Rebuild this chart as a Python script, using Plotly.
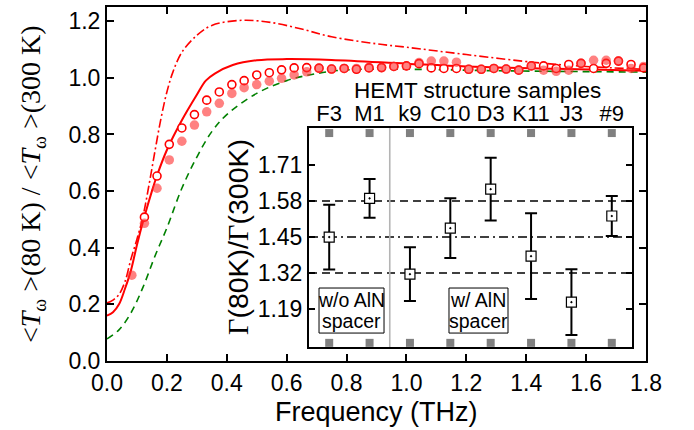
import plotly.graph_objects as go

# ---------------- data ----------------
freq_filled = [0.083, 0.125, 0.167, 0.208, 0.25, 0.292, 0.333, 0.375, 0.417, 0.458, 0.5,
               0.542, 0.583, 0.625, 0.667, 0.708, 0.75, 0.792, 0.833, 0.875, 0.917, 0.958,
               1.0, 1.042, 1.083, 1.125, 1.167, 1.208, 1.25, 1.292, 1.333, 1.375, 1.417,
               1.458, 1.5, 1.542, 1.583, 1.625, 1.667, 1.708, 1.75, 1.792]
ratio_filled = [0.303, 0.486, 0.61, 0.71, 0.776, 0.833, 0.88, 0.91, 0.945, 0.965, 0.976,
                0.988, 0.998, 1.01, 1.021, 1.033, 1.031, 1.033, 1.033, 1.037, 1.036, 1.04,
                1.042, 1.054, 1.059, 1.059, 1.055, 1.03, 1.03, 1.033, 1.031, 1.027, 1.042,
                1.027, 1.023, 1.027, 1.051, 1.062, 1.062, 1.059, 1.033, 1.04]

freq_open = [0.125, 0.167, 0.208, 0.25, 0.292, 0.333, 0.375, 0.417, 0.458, 0.5,
             0.542, 0.583, 0.625, 0.667, 0.708, 0.75, 0.792, 0.833, 0.875, 0.917, 0.958,
             1.0, 1.042, 1.083, 1.125, 1.167, 1.208, 1.25, 1.292, 1.333, 1.375, 1.417,
             1.458, 1.5, 1.542, 1.583, 1.625, 1.667, 1.708, 1.75, 1.792]
ratio_open = [0.508, 0.653, 0.765, 0.823, 0.87, 0.921, 0.95, 0.976, 0.99, 1.01,
              1.018, 1.028, 1.035, 1.036, 1.034, 1.031, 1.033, 1.03, 1.035, 1.036, 1.04,
              1.042, 1.05, 1.035, 1.033, 1.033, 1.03, 1.03, 1.033, 1.031, 1.027, 1.042,
              1.042, 1.033, 1.047, 1.051, 1.033, 1.051, 1.059, 1.047, 1.035]

freq_solid = [0.0, 0.02, 0.04, 0.06, 0.08, 0.1, 0.125, 0.15, 0.167, 0.2, 0.25, 0.3, 0.33,
              0.36, 0.42, 0.5, 0.6, 0.75, 1.0, 1.2, 1.5, 1.8]
ratio_solid = [0.16, 0.172, 0.2, 0.255, 0.32, 0.41, 0.51, 0.6, 0.655, 0.745, 0.85, 0.94,
               0.99, 1.015, 1.045, 1.062, 1.066, 1.063, 1.05, 1.04, 1.032, 1.025]

freq_dashdot = [0.0, 0.02, 0.04, 0.06, 0.08, 0.1, 0.12, 0.14, 0.16, 0.18, 0.2, 0.22, 0.25,
                0.3, 0.35, 0.45, 0.55, 0.65, 0.75, 0.9, 1.0, 1.2, 1.45, 1.6, 1.8]
ratio_dashdot = [0.205, 0.215, 0.235, 0.28, 0.36, 0.43, 0.51, 0.62, 0.74, 0.855, 0.95, 1.02,
                 1.09, 1.15, 1.185, 1.203, 1.195, 1.172, 1.145, 1.12, 1.108, 1.082, 1.052,
                 1.04, 1.03]

freq_dash = [0.0, 0.04, 0.08, 0.12, 0.16, 0.2, 0.25, 0.3, 0.35, 0.4, 0.5, 0.6, 0.7, 0.8,
             1.0, 1.3, 1.8]
ratio_dash = [0.078, 0.11, 0.17, 0.26, 0.37, 0.47, 0.61, 0.72, 0.81, 0.87, 0.945, 0.99,
              1.015, 1.028, 1.03, 1.025, 1.02]

samples = ["F3", "M1", "k9", "C10", "D3", "K11", "J3", "#9"]
sample_pos = [1, 2, 3, 4, 5, 6, 7, 8]
gamma_ratio = [1.45, 1.59, 1.316, 1.482, 1.623, 1.381, 1.215, 1.526]
gamma_err = [0.117, 0.07, 0.097, 0.108, 0.113, 0.155, 0.119, 0.072]
mean_ratio = 1.45
std_ratio = 0.13
inset_ticks = [1.19, 1.32, 1.45, 1.58, 1.71]

# ---------------- figure ----------------
SANS = "Liberation Sans, Arial, sans-serif"
SERIF = "Liberation Serif, Times New Roman, serif"
RED = "#ff0000"

fig = go.Figure()

fig.add_trace(go.Scatter(x=freq_dash, y=ratio_dash, mode="lines", line_shape="spline",
                         line=dict(color="#008000", width=1.6, dash="7px,5px"),
                         showlegend=False))
fig.add_trace(go.Scatter(x=freq_dashdot, y=ratio_dashdot, mode="lines", line_shape="spline",
                         line=dict(color=RED, width=1.6, dash="9px,3px,2px,3px"),
                         showlegend=False))
fig.add_trace(go.Scatter(x=freq_solid, y=ratio_solid, mode="lines", line_shape="spline",
                         line=dict(color=RED, width=2), showlegend=False))
fig.add_trace(go.Scatter(x=freq_open, y=ratio_open, mode="markers",
                         marker=dict(symbol="circle", size=8, color="white",
                                     line=dict(color=RED, width=1.6)),
                         showlegend=False))
fig.add_trace(go.Scatter(x=freq_filled, y=ratio_filled, mode="markers",
                         marker=dict(symbol="circle", size=9.5, color="rgba(255,45,45,0.6)",
                                     line=dict(width=0)),
                         showlegend=False))

# inset
y2_range = [1.053, 1.8435]
fig.add_trace(go.Scatter(x=[0.5, 8.5], y=[mean_ratio + std_ratio] * 2, mode="lines",
                         xaxis="x2", yaxis="y2",
                         line=dict(color="black", width=1.6, dash="8px,5px"), showlegend=False))
fig.add_trace(go.Scatter(x=[0.5, 8.5], y=[mean_ratio - std_ratio] * 2, mode="lines",
                         xaxis="x2", yaxis="y2",
                         line=dict(color="black", width=1.6, dash="8px,5px"), showlegend=False))
fig.add_trace(go.Scatter(x=[0.5, 8.5], y=[mean_ratio] * 2, mode="lines",
                         xaxis="x2", yaxis="y2",
                         line=dict(color="black", width=1.6, dash="9px,4px,2px,4px"),
                         showlegend=False))
fig.add_trace(go.Scatter(x=[2.5, 2.5], y=y2_range, mode="lines", xaxis="x2", yaxis="y2",
                         line=dict(color="#b4b4b4", width=1.6), showlegend=False))
# grey square "ticks"
top_mark = y2_range[1] - 0.018
bot_mark = y2_range[0] + 0.015
fig.add_trace(go.Scatter(x=sample_pos, y=[top_mark] * len(sample_pos), mode="markers",
                         xaxis="x2", yaxis="y2", cliponaxis=False,
                         marker=dict(symbol="square", size=8, color="#808080"), showlegend=False))
fig.add_trace(go.Scatter(x=sample_pos, y=[bot_mark] * len(sample_pos), mode="markers",
                         xaxis="x2", yaxis="y2", cliponaxis=False,
                         marker=dict(symbol="square", size=8, color="#808080"), showlegend=False))
fig.add_trace(go.Scatter(x=sample_pos, y=gamma_ratio, mode="markers", xaxis="x2", yaxis="y2",
                         error_y=dict(type="data", array=gamma_err, color="black",
                                      thickness=2, width=6),
                         marker=dict(symbol="square-dot", size=10, color="white",
                                     line=dict(color="black", width=1.2)),
                         showlegend=False))

# text boxes
fig.add_shape(type="rect", xref="x2", yref="y2", x0=0.748, x1=2.358, y0=1.1034, y1=1.266,
              line=dict(color="black", width=1), fillcolor="white", layer="below")
fig.add_shape(type="rect", xref="x2", yref="y2", x0=3.967, x1=5.429, y0=1.1034, y1=1.266,
              line=dict(color="black", width=1), fillcolor="white", layer="below")
for xc, line1 in [(1.553, "w/o AlN"), (4.698, "w/ AlN")]:
    fig.add_annotation(xref="x2", yref="y2", x=xc, y=1.222, text=line1, showarrow=False,
                       xanchor="center", yanchor="middle",
                       font=dict(family=SANS, size=19.5, color="black"))
    fig.add_annotation(xref="x2", yref="y2", x=xc, y=1.148, text="spacer", showarrow=False,
                       xanchor="center", yanchor="middle",
                       font=dict(family=SANS, size=19.5, color="black"))

fig.add_annotation(xref="paper", yref="paper", x=0.688, y=0.7655, text="HEMT structure samples",
                   xanchor="center", yanchor="middle",
                   showarrow=False, font=dict(family=SANS, size=22.5, color="black"))

# axis titles
fig.add_annotation(xref="paper", yref="paper", x=-0.139, y=0.5, textangle=-90,
                   xanchor="center", yanchor="middle",
                   text="&lt;<i>T</i><sub>ω</sub> &gt;(80 K) / &lt;<i>T</i><sub>ω</sub> &gt;(300 K)",
                   showarrow=False, font=dict(family=SERIF, size=28, color="black"))
fig.add_annotation(xref="paper", yref="paper", x=0.243, y=0.350, textangle=-90,
                   xanchor="center", yanchor="middle",
                   text="<span style='font-family:Liberation Serif'>Γ</span>(80K)/<span style='font-family:Liberation Serif'>Γ</span>(300K)",
                   showarrow=False, font=dict(family=SANS, size=28.5, color="black"))
fig.add_annotation(xref="paper", yref="paper", x=0.5, y=-0.143,
                   xanchor="center", yanchor="middle",
                   text="Frequency (THz)", showarrow=False,
                   font=dict(family=SANS, size=27, color="black"))

axis_common = dict(showline=True, linecolor="black", linewidth=2, mirror="ticks",
                   ticks="inside", ticklen=7, tickwidth=2, tickcolor="black",
                   showgrid=False, zeroline=False, automargin=False,
                   tickfont=dict(family=SANS, size=23, color="black"))

fig.update_layout(
    width=694, height=430,
    margin=dict(l=107, r=48, t=7, b=69),
    paper_bgcolor="white", plot_bgcolor="white",
    showlegend=False,
    xaxis=dict(range=[0, 1.8], dtick=0.2, tick0=0, tickformat=".1f", **axis_common),
    yaxis=dict(range=[0, 1.25], dtick=0.2, tick0=0, tickformat=".1f", **axis_common),
    xaxis2=dict(domain=[0.3748, 0.974], anchor="y2", range=[0.5, 8.5], side="top",
                tickvals=sample_pos, ticktext=samples, ticks="", automargin=False,
                ticklabelstandoff=-4,
                showline=True, linecolor="black", linewidth=2, mirror=True,
                showgrid=False, zeroline=False,
                tickfont=dict(family=SANS, size=22, color="black")),
    yaxis2=dict(domain=[0.0395, 0.658], anchor="x2", range=y2_range, automargin=False,
                tickvals=inset_ticks, ticktext=["%.2f" % v for v in inset_ticks],
                ticks="inside", ticklen=6, tickwidth=1.5, tickcolor="black",
                showline=True, linecolor="black", linewidth=2, mirror="ticks",
                showgrid=False, zeroline=False,
                tickfont=dict(family=SANS, size=23, color="black")),
)

fig.write_html("out.html", config={"displayModeBar": False},
               post_script="document.body.style.margin='0';document.body.style.padding='0';")
